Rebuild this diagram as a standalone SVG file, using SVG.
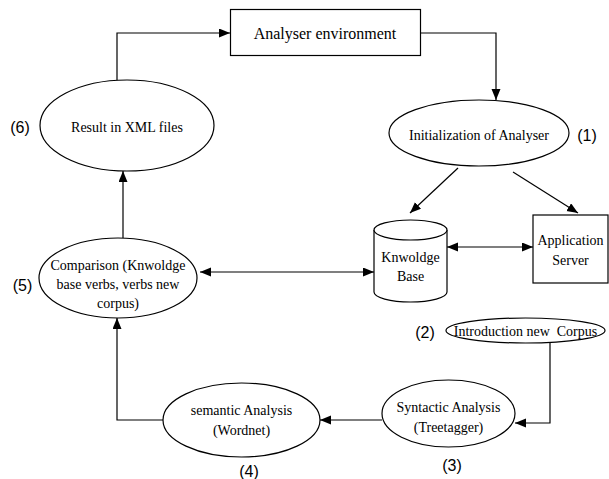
<svg xmlns="http://www.w3.org/2000/svg" width="609" height="479" viewBox="0 0 609 479">
<style>
.shape{fill:#fff;stroke:#000;stroke-width:1.2}
.lbl{font-family:"Liberation Serif","Times New Roman",serif;font-size:14px;fill:#000;text-anchor:middle;dominant-baseline:central}
.num{font-family:"Liberation Sans",Arial,sans-serif;font-size:16px;fill:#000;text-anchor:middle;dominant-baseline:central}
.conn{fill:none;stroke:#000;stroke-width:1.2}
</style>
<defs>
<marker id="ah" markerUnits="userSpaceOnUse" markerWidth="12" markerHeight="10" refX="11" refY="4.5" orient="auto-start-reverse" viewBox="0 0 12 10">
<path d="M0,0 L11,4.5 L0,9 z" fill="#000"/>
</marker>
</defs>
<g id="connectors">
<path class="conn" d="M117,80 V33 H230" marker-end="url(#ah)"/>
<path class="conn" d="M420,33 H496 V100" marker-end="url(#ah)"/>
<path class="conn" d="M458,168 L410,213" marker-end="url(#ah)"/>
<path class="conn" d="M513,172 L578,213" marker-end="url(#ah)"/>
<path class="conn" d="M447,247 H533" marker-start="url(#ah)" marker-end="url(#ah)"/>
<path class="conn" d="M200,272 H374" marker-start="url(#ah)" marker-end="url(#ah)"/>
<path class="conn" d="M123,238 V171" marker-end="url(#ah)"/>
<path class="conn" d="M550,343 V423 H515" marker-end="url(#ah)"/>
<path class="conn" d="M382,420 H320" marker-end="url(#ah)"/>
<path class="conn" d="M163,420 H117 V318" marker-end="url(#ah)"/>
</g>
<g id="analyser-environment">
<rect class="shape" x="230.5" y="9.5" width="190" height="46"/>
<text class="lbl" x="325" y="33" style="font-size:16px">Analyser environment</text>
</g>
<g id="initialization">
<ellipse class="shape" cx="479" cy="133" rx="90" ry="33"/>
<text class="lbl" x="479" y="135">Initialization of Analyser</text>
<text class="num" x="587" y="135">(1)</text>
</g>
<g id="result-xml">
<ellipse class="shape" cx="127" cy="125.5" rx="87" ry="45.5"/>
<text class="lbl" x="127" y="127">Result in XML files</text>
<text class="num" x="20" y="127">(6)</text>
</g>
<g id="knowledge-base">
<path class="shape" d="M374,230 V292 A36.5,10 0 0 0 447,292 V230"/>
<ellipse class="shape" cx="410.5" cy="230" rx="36.5" ry="10"/>
<text class="lbl" x="410.5" y="257">Knwoldge</text>
<text class="lbl" x="410.5" y="276">Base</text>
</g>
<g id="application-server">
<rect class="shape" x="533" y="215" width="75" height="68"/>
<text class="lbl" x="570.5" y="240">Application</text>
<text class="lbl" x="570.5" y="260">Server</text>
</g>
<g id="comparison">
<ellipse class="shape" cx="118" cy="278" rx="79" ry="40"/>
<text class="lbl" x="118" y="265">Comparison (Knwoldge</text>
<text class="lbl" x="118" y="284">base verbs, verbs new</text>
<text class="lbl" x="118" y="303">corpus)</text>
<text class="num" x="22.5" y="285">(5)</text>
</g>
<g id="introduction">
<ellipse class="shape" cx="525.5" cy="330.5" rx="79.5" ry="12.5"/>
<text class="lbl" x="525.5" y="331" xml:space="preserve">Introduction new  Corpus</text>
<text class="num" x="425" y="332">(2)</text>
</g>
<g id="syntactic">
<ellipse class="shape" cx="448.5" cy="413.5" rx="66.5" ry="33.5"/>
<text class="lbl" x="448.5" y="407">Syntactic Analysis</text>
<text class="lbl" x="448.5" y="427">(Treetagger)</text>
<text class="num" x="452" y="465">(3)</text>
</g>
<g id="semantic">
<ellipse class="shape" cx="241.5" cy="420" rx="78.5" ry="37"/>
<text class="lbl" x="241.5" y="410">semantic Analysis</text>
<text class="lbl" x="241.5" y="430">(Wordnet)</text>
<text class="num" x="249" y="471">(4)</text>
</g>
</svg>
